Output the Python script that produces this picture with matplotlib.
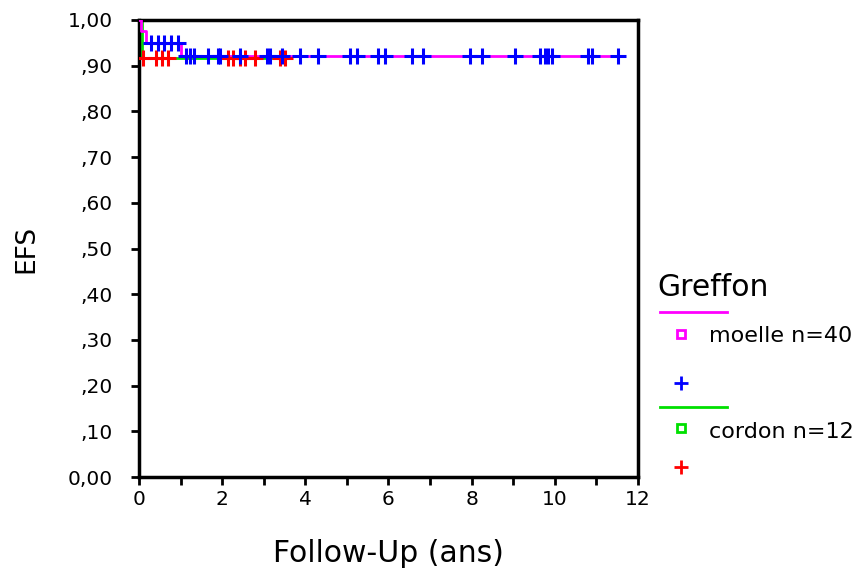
import numpy as np
import matplotlib
matplotlib.use("Agg")
import matplotlib.pyplot as plt
from matplotlib.lines import Line2D

plt.rcParams["font.family"] = ["DejaVu Sans"]

# Kaplan-Meier step curves (time in years, survival)
moelle_t = [0, 0.05, 0.18, 1.0, 11.52]
moelle_s = [1.0, 0.975, 0.95, 0.921, 0.921]
cordon_t = [0, 0.07, 3.51]
cordon_s = [1.0, 0.917, 0.917]

# censored observations
moelle_cens = [0.29, 0.46, 0.6, 0.77, 0.94, 1.13, 1.22, 1.32, 1.66, 1.9, 1.95, 2.43,
               3.08, 3.15, 3.44, 3.87, 4.3, 5.07, 5.24, 5.75, 5.91, 6.56, 6.83,
               7.96, 8.25, 9.04, 9.64, 9.76, 9.83, 9.93, 10.79, 10.89, 11.52]
cordon_cens = [0.1, 0.41, 0.55, 0.7, 2.14, 2.26, 2.43, 2.55, 2.79, 3.39, 3.51]

y_ticks = [0.0, 0.1, 0.2, 0.3, 0.4, 0.5, 0.6, 0.7, 0.8, 0.9, 1.0]
y_labels = ["0,00", ",10", ",20", ",30", ",40", ",50", ",60", ",70", ",80", ",90", "1,00"]
x_ticks = [0, 2, 4, 6, 8, 10, 12]


def surv_at(times, surv, t):
    idx = np.searchsorted(times, t, side="right") - 1
    return np.array(surv)[idx]


fig = plt.figure(figsize=(8.61, 5.70), dpi=100)
ax = fig.add_axes([0.1614, 0.163, 0.5796, 0.802])

ax.step(cordon_t, cordon_s, where="post", color="#00e000", lw=2, zorder=2)
ax.step(moelle_t, moelle_s, where="post", color="#ff00ff", lw=2, zorder=3)
ax.plot(cordon_cens, surv_at(cordon_t, cordon_s, cordon_cens), ls="none", marker="+",
        ms=12, mew=2.2, color="#ff0000", zorder=4)
ax.plot(moelle_cens, surv_at(moelle_t, moelle_s, moelle_cens), ls="none", marker="+",
        ms=12, mew=2.2, color="#0000ff", zorder=5)

ax.set_xlim(0, 12)
ax.set_ylim(0, 1)
ax.set_xticks(x_ticks)
ax.set_xticks([1, 3, 5, 7, 9, 11], minor=True)
ax.set_yticks(y_ticks)
ax.set_yticklabels(y_labels)
ax.tick_params(which="both", direction="out", length=6, width=2, labelsize=14.5)
ax.tick_params(axis="y", pad=13)
ax.tick_params(axis="x", pad=3)
for s in ax.spines.values():
    s.set_linewidth(2.5)

ax.set_xlabel("Follow-Up (ans)", fontsize=21.5, labelpad=22)
ax.set_ylabel("EFS", fontsize=19, labelpad=20)

# legend drawn by hand to mimic the SPSS layout
tr = fig.transFigure
fig.text(657 / 861, 1 - 287 / 570, "Greffon", fontsize=21.5, va="center", ha="left")
fig.add_artist(Line2D([660 / 861, 727 / 861], [1 - 312 / 570] * 2, color="#ff00ff", lw=2, transform=tr))
fig.add_artist(Line2D([681 / 861], [1 - 334 / 570], marker="s", ms=6, mfc="white", mec="#ff00ff",
                      mew=2, ls="none", transform=tr))
fig.text(709 / 861, 1 - 336 / 570, "moelle n=40", fontsize=16, va="center", ha="left")
fig.add_artist(Line2D([681 / 861], [1 - 383 / 570], marker="+", ms=10, mew=2, color="#0000ff",
                      ls="none", transform=tr))
fig.add_artist(Line2D([660 / 861, 727 / 861], [1 - 407 / 570] * 2, color="#00e000", lw=2, transform=tr))
fig.add_artist(Line2D([681 / 861], [1 - 428 / 570], marker="s", ms=6, mfc="white", mec="#00e000",
                      mew=2, ls="none", transform=tr))
fig.text(709 / 861, 1 - 432 / 570, "cordon n=12", fontsize=16, va="center", ha="left")
fig.add_artist(Line2D([681 / 861], [1 - 467 / 570], marker="+", ms=10, mew=2, color="#ff0000",
                      ls="none", transform=tr))

fig.savefig("out.png", dpi=100)
